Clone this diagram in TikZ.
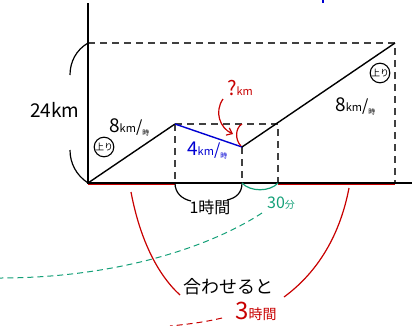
\documentclass[tikz,border=0pt]{standalone}
\usepackage{fontspec}
\setmainfont{Noto Sans CJK JP}
\usetikzlibrary{arrows.meta,positioning}
\definecolor{penred}{RGB}{200,0,0}
\definecolor{penblue}{RGB}{0,0,210}
\definecolor{pengreen}{RGB}{20,160,120}
\newcommand\fsz[1]{\fontsize{#1}{#1}\selectfont}
\newcommand\speedlabel[1]{{\fsz{19}#1}{\fsz{11}km}{\fsz{16}/}\raisebox{-3pt}{\fsz{7}時}}

\begin{document}
\begin{tikzpicture}[
  x=1pt, y=-1pt,
  axis/.style={line width=1.5pt, black},
  guide/.style={dash pattern=on 7pt off 5pt, line width=1.2pt, black!75},
  walk/.style={line width=1.4pt},
  redbar/.style={line width=3pt, penred},
  brace/.style={line width=1.2pt},
  hand/.style={inner sep=0pt, font=\fsz{18}},
  upbadge/.style={draw, circle, line width=1.1pt, minimum size=18pt, inner sep=0pt, font=\fsz{9}},
  arrow/.style={-{Straight Barb[length=5pt,width=8pt]}, line width=1.2pt},
]
\useasboundingbox (0,0) rectangle (412,325);

% ===== Axes and the journey =====
\coordinate (O) at (88,183);
\coordinate (ytop) at (88,3);
\coordinate (xend) at (412,183);
\coordinate (H) at (88,43);
\coordinate (P1) at (175,124);
\coordinate (P2) at (242,147);
\coordinate (Q) at (278,124);
\coordinate (P3) at (395,43);

\draw[guide] (H) -- (P3) -- (P3 |- O);
\draw[guide] (P1) -- (Q) -- (Q |- O);
\draw[guide] (P1) -- (P1 |- O);
\draw[guide] (P2) -- (P2 |- O);

\draw[redbar, yshift=-1.5pt] (O) -- (P1 |- O);
\draw[redbar, yshift=-1.5pt] (Q |- O) -- (P3 |- O);
\draw[axis] (ytop) -- (O) -- (xend);

\draw[walk] (O) -- (P1);
\draw[walk, penblue] (P1) -- (P2);
\draw[walk] (P2) -- (P3);

\draw[penblue, line width=1.5pt] (323,0) -- (323,3);

% ===== Distance brace =====
\draw[brace] (H) .. controls (76,50) and (70,62) .. (70,75);
\draw[brace] (70,150) .. controls (70,163) and (76,175) .. (O);
\node[hand, font=\fsz{19}] (dist) at (55,110) {24km};

% ===== Speeds =====
\node[upbadge] (up1) at (104,147) {上り};
\node[upbadge] (up2) at (380,73) {上り};
\node[hand, anchor=west] (v1) at (109,127) {\speedlabel{8}};
\node[hand, anchor=west] (v2) at (335,106) {\speedlabel{8}};
\node[hand, anchor=west, penblue] (v3) at (187,150) {\speedlabel{4}};

% ===== Unknown distance =====
\node[hand, penred] (unk) at (240,88) {{\fsz{20}?}{\fsz{11}km}};
\coordinate (unkend) at (233,134);
\draw[arrow, penred] (223,99) .. controls (214,112) and (220,128) .. (unkend);
\draw[brace, penred] (242,124) .. controls (235,128) and (235,140) .. (241,146);

% ===== Times under the axis =====
\draw[brace] (P1 |- O) .. controls (175,193) and (182,199) .. (191,201);
\draw[brace] (227,200) .. controls (236,198) and (242,193) .. (P2 |- O);
\node[hand, font=\fsz{16}] (onehour) at (210,207) {1時間};

\draw[brace, pengreen] (P2 |- O) .. controls (250,192) and (270,192) .. (Q |- O);
\node[hand, pengreen] (half) at (281,203) {{\fsz{16}30}{\fsz{10}分}};
\draw[pengreen, line width=1pt, dash pattern=on 6pt off 4pt]
  (262,213) .. controls (205,250) and (110,278) .. (0,278);

% ===== Total =====
\draw[brace, penred] (131,192) .. controls (140,240) and (158,275) .. (180,295);
\draw[brace, penred] (349,188) .. controls (340,235) and (318,272) .. (284,297);
\node[hand] (sum) at (228,287) {合わせると};
\node[hand, penred] (total) at (256,311) {{\fsz{24}3}{\fsz{14}時間}};
\draw[penred, line width=1pt, dash pattern=on 6pt off 4pt]
  (222,318) .. controls (205,322) and (190,324) .. (170,326);

\end{tikzpicture}
\end{document}
